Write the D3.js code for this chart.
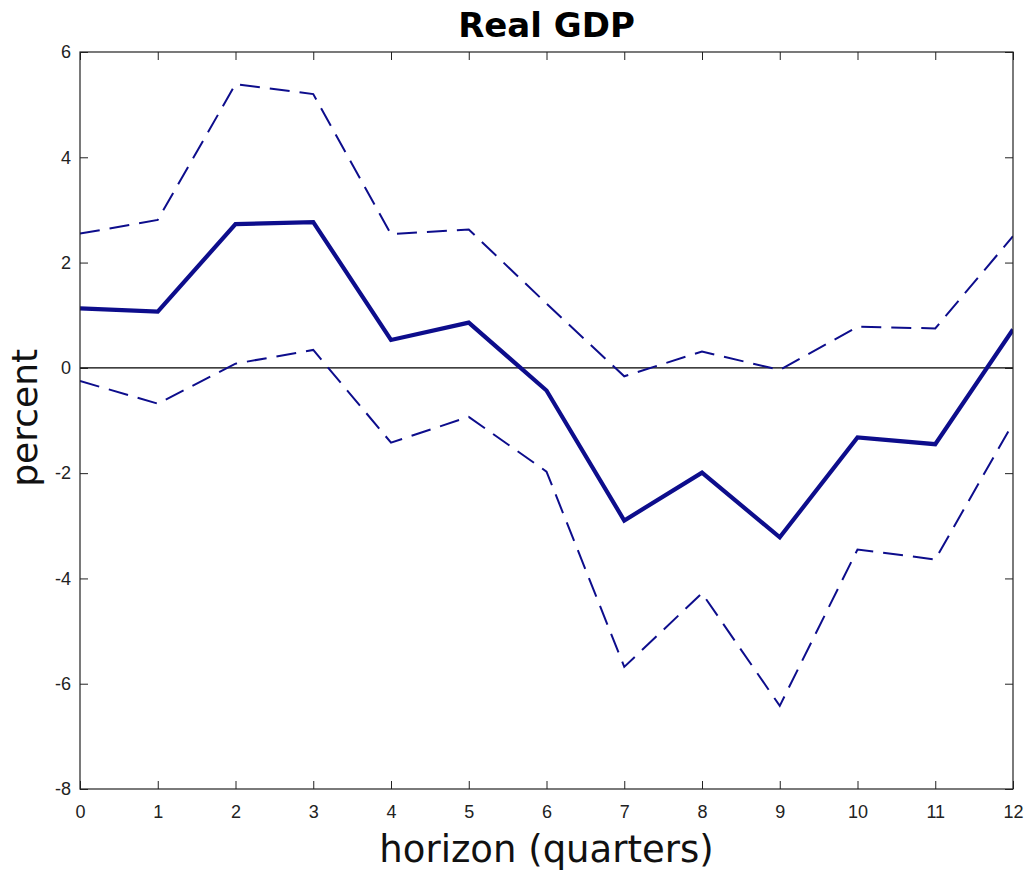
<!DOCTYPE html>
<html>
<head>
<meta charset="utf-8">
<script src="https://cdn.jsdelivr.net/npm/d3@7"></script>
<style>
  html, body { margin: 0; padding: 0; background: #fff; }
  svg { display: block; }
</style>
</head>
<body>
<svg id="chart" width="1028" height="872"></svg>
<script>
// Impulse response of real GDP over a 12-quarter horizon, with error bands
const horizon = [0, 1, 2, 3, 4, 5, 6, 7, 8, 9, 10, 11, 12];
const response = [1.13, 1.07, 2.73, 2.77, 0.53, 0.86, -0.43, -2.90, -1.99, -3.22, -1.32, -1.45, 0.73];
const upperBand = [2.55, 2.81, 5.39, 5.20, 2.54, 2.63, 1.22, -0.16, 0.31, -0.04, 0.78, 0.75, 2.50];
const lowerBand = [-0.25, -0.68, 0.08, 0.34, -1.42, -0.93, -1.97, -5.68, -4.28, -6.42, -3.45, -3.64, -1.05];
const xTicks = [0, 1, 2, 3, 4, 5, 6, 7, 8, 9, 10, 11, 12];
const yTicks = [-8, -6, -4, -2, 0, 2, 4, 6];

const svg = d3.select("#chart");
const plotLeft = 80, plotRight = 1013, plotTop = 52, plotBottom = 789;
const lineColor = "#0d0d8c";

const x = d3.scaleLinear().domain([0, 12]).range([plotLeft, plotRight]);
const y = d3.scaleLinear().domain([-8, 6]).range([plotBottom, plotTop]);

const tickFont = "'Liberation Sans', Arial, Helvetica, sans-serif";
const labelFont = "'DejaVu Sans', 'Open Sans', sans-serif";
const plainNumber = d => String(d);   // plain hyphen for negatives

// clip the series to the axes box
svg.append("defs").append("clipPath").attr("id", "plotClip")
  .append("rect").attr("x", plotLeft).attr("y", plotTop)
  .attr("width", plotRight - plotLeft).attr("height", plotBottom - plotTop);

// axes (ticks pointing inward, mirrored on all four sides)
const tickLen = 8;
const axisBottom = svg.append("g").attr("transform", `translate(0,${plotBottom})`)
  .call(d3.axisBottom(x).tickValues(xTicks).tickSize(-tickLen).tickPadding(16).tickFormat(plainNumber));
const axisTop = svg.append("g").attr("transform", `translate(0,${plotTop})`)
  .call(d3.axisTop(x).tickValues(xTicks).tickSize(-tickLen).tickFormat(""));
const axisLeft = svg.append("g").attr("transform", `translate(${plotLeft},0)`)
  .call(d3.axisLeft(y).tickValues(yTicks).tickSize(-tickLen).tickPadding(9).tickFormat(plainNumber));
const axisRight = svg.append("g").attr("transform", `translate(${plotRight},0)`)
  .call(d3.axisRight(y).tickValues(yTicks).tickSize(-tickLen).tickFormat(""));

[axisBottom, axisTop, axisLeft, axisRight].forEach(g => {
  g.select(".domain").remove();
  g.selectAll(".tick line").attr("stroke", "#222").attr("stroke-width", 1);
  g.selectAll(".tick text").attr("fill", "#222")
    .style("font-family", tickFont).style("font-size", "18px");
});

// zero reference line
svg.append("line")
  .attr("x1", plotLeft).attr("x2", plotRight)
  .attr("y1", y(0)).attr("y2", y(0))
  .attr("stroke", "#000").attr("stroke-width", 1.2);

const line = d3.line().x((d, i) => x(horizon[i])).y(d => y(d));
const series = svg.append("g").attr("clip-path", "url(#plotClip)");

series.append("path").datum(upperBand)
  .attr("d", line).attr("fill", "none")
  .attr("stroke", lineColor).attr("stroke-width", 2)
  .attr("stroke-dasharray", "20,10");

series.append("path").datum(lowerBand)
  .attr("d", line).attr("fill", "none")
  .attr("stroke", lineColor).attr("stroke-width", 2)
  .attr("stroke-dasharray", "20,10");

series.append("path").datum(response)
  .attr("d", line).attr("fill", "none")
  .attr("stroke", lineColor).attr("stroke-width", 4.2)
  .attr("stroke-linejoin", "miter");

// axes box
svg.append("rect")
  .attr("x", plotLeft).attr("y", plotTop)
  .attr("width", plotRight - plotLeft).attr("height", plotBottom - plotTop)
  .attr("fill", "none").attr("stroke", "#222").attr("stroke-width", 1.2);

// title and axis labels
svg.append("text")
  .attr("x", (plotLeft + plotRight) / 2).attr("y", 37)
  .attr("text-anchor", "middle")
  .style("font-family", labelFont).style("font-weight", "bold").style("font-size", "34px")
  .attr("fill", "#000")
  .text("Real GDP");

svg.append("text")
  .attr("x", (plotLeft + plotRight) / 2).attr("y", 862)
  .attr("text-anchor", "middle")
  .style("font-family", labelFont).style("font-size", "37px")
  .attr("fill", "#111")
  .text("horizon (quarters)");

svg.append("text")
  .attr("transform", `translate(37,${y(-0.95)}) rotate(-90)`)
  .attr("text-anchor", "middle")
  .style("font-family", labelFont).style("font-size", "36px")
  .attr("fill", "#111")
  .text("percent");
</script>
</body>
</html>
